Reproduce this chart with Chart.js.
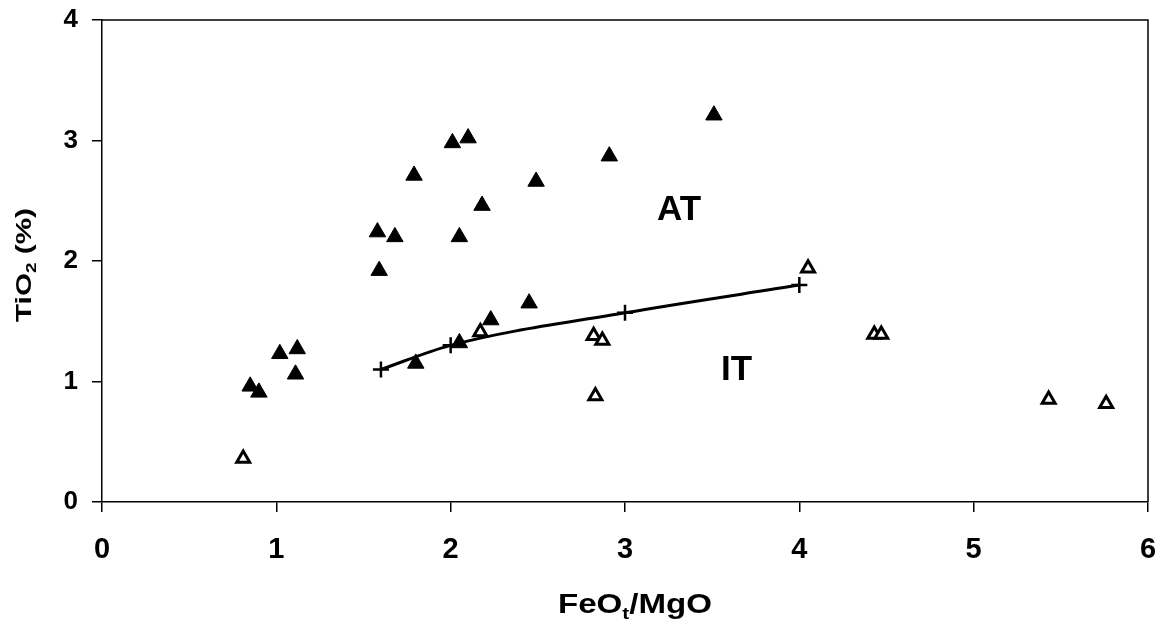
<!DOCTYPE html>
<html><head><meta charset="utf-8">
<script src="https://cdn.jsdelivr.net/npm/chart.js@4.4.1/dist/chart.umd.min.js"></script>
<style>html,body{margin:0;padding:0;background:#fff;overflow:hidden}</style>
</head><body>
<canvas id="c" width="1159" height="621"></canvas>
<script>
// ---- data ----
const atX = [0.85, 0.90, 1.02, 1.12, 1.11, 1.58, 1.59, 1.68, 1.79, 1.80, 2.01, 2.10, 2.05, 2.05, 2.18, 2.23, 2.45, 2.49, 2.91, 3.51];
const atY = [0.96, 0.91, 1.23, 1.27, 1.06, 2.24, 1.92, 2.20, 2.71, 1.15, 2.98, 3.02, 2.20, 1.32, 2.46, 1.51, 1.65, 2.66, 2.87, 3.21];
const itX = [0.81, 2.17, 2.82, 2.87, 2.83, 4.05, 4.43, 4.47, 5.43, 5.76];
const itY = [0.36, 1.41, 1.38, 1.34, 0.88, 1.94, 1.39, 1.39, 0.85, 0.815];
const curveX = [1.6, 2.0, 3.0, 4.0];
const curveY = [1.10, 1.30, 1.57, 1.80];
const xTicks = [0, 1, 2, 3, 4, 5, 6];
const yTicks = [0, 1, 2, 3, 4];
const regionNames = ['AT', 'IT'];
const regionX = [3.31, 3.64];
const regionY = [2.42, 1.09];

const FONT = "'Liberation Sans', Arial, sans-serif";
const toPts = (xs, ys) => xs.map((x, i) => ({x: x, y: ys[i]}));

function drawRich(ctx, parts, size, cx, baseY, targetW) {
  const widths = parts.map(p => {
    ctx.font = 'bold ' + (p[1] ? Math.round(size * 0.62) : size) + 'px ' + FONT;
    return ctx.measureText(p[0]).width;
  });
  const total = widths.reduce((a, b) => a + b, 0);
  const sx = targetW ? targetW / total : 1;
  ctx.save();
  ctx.translate(cx, baseY);
  ctx.scale(sx, 1);
  let x = -total / 2;
  ctx.textAlign = 'left';
  ctx.textBaseline = 'alphabetic';
  ctx.fillStyle = '#000';
  parts.forEach((p, i) => {
    ctx.font = 'bold ' + (p[1] ? Math.round(size * 0.62) : size) + 'px ' + FONT;
    ctx.fillText(p[0], x, p[1] ? size * 0.22 : 0);
    x += widths[i];
  });
  ctx.restore();
}

const decor = {
  id: 'decor',
  afterDatasetsDraw(chart) {
    const ctx = chart.ctx, a = chart.chartArea;
    const xs = chart.scales.x, ys = chart.scales.y;
    ctx.save();
    ctx.strokeStyle = '#000';
    ctx.lineWidth = 1.5;
    ctx.beginPath();
    ctx.moveTo(a.left, a.top); ctx.lineTo(a.right, a.top); ctx.lineTo(a.right, a.bottom);
    ctx.stroke();
    ctx.fillStyle = '#000';
    ctx.font = 'bold 35px ' + FONT;
    ctx.textAlign = 'center';
    ctx.textBaseline = 'middle';
    regionNames.forEach((n, i) => {
      ctx.fillText(n, xs.getPixelForValue(regionX[i]), ys.getPixelForValue(regionY[i]));
    });
    drawRich(ctx, [['FeO', false], ['t', true], ['/MgO', false]], 27, 635, 613, 154);
    ctx.save();
    ctx.translate(31, 265);
    ctx.rotate(-Math.PI / 2);
    drawRich(ctx, [['TiO', false], ['2', true], [' (%)', false]], 22, 0, 0, 114);
    ctx.restore();
    ctx.restore();
  }
};

const zeroPad = s => { s.paddingLeft = 0; s.paddingRight = 0; s.paddingTop = 0; s.paddingBottom = 0; };

new Chart(document.getElementById('c'), {
  type: 'scatter',
  data: {
    datasets: [
      {
        label: 'AT', data: toPts(atX, atY), pointStyle: 'triangle', pointRadius: 9.5,
        backgroundColor: '#000', borderColor: '#000', borderWidth: 1, order: 1
      },
      {
        label: 'IT', data: toPts(itX, itY), pointStyle: 'triangle', pointRadius: 7.5,
        backgroundColor: '#fff', borderColor: '#000', borderWidth: 3, order: 2
      },
      {
        label: 'curve', data: toPts(curveX, curveY), showLine: true, pointStyle: 'cross',
        pointRadius: 8, pointBorderWidth: 2.5, borderWidth: 3, borderColor: '#000',
        backgroundColor: '#000', tension: 0.3, cubicInterpolationMode: 'monotone', fill: false, order: 3
      }
    ]
  },
  options: {
    responsive: false,
    animation: false,
    events: [],
    layout: {padding: {left: 0, top: 20, right: 11, bottom: 0}},
    plugins: {legend: {display: false}, tooltip: {enabled: false}},
    scales: {
      x: {
        type: 'linear', min: 0, max: 6,
        afterBuildTicks: s => { s.ticks = xTicks.map(v => ({value: v})); },
        afterFit: s => { s.height = 119; zeroPad(s); },
        ticks: {color: '#000', font: {family: FONT, size: 29, weight: 'bold'}, padding: 21},
        grid: {drawOnChartArea: false, drawTicks: true, tickLength: 10, color: '#000', lineWidth: 1.5},
        border: {color: '#000', width: 1.5}
      },
      y: {
        type: 'linear', min: 0, max: 4,
        afterBuildTicks: s => { s.ticks = yTicks.map(v => ({value: v})); },
        afterFit: s => { s.width = 102; zeroPad(s); },
        ticks: {color: '#000', font: {family: FONT, size: 26, weight: 'bold'}, padding: 14},
        grid: {drawOnChartArea: false, drawTicks: true, tickLength: 10, color: '#000', lineWidth: 1.5},
        border: {color: '#000', width: 1.5}
      }
    }
  },
  plugins: [decor]
});
</script>
</body></html>
